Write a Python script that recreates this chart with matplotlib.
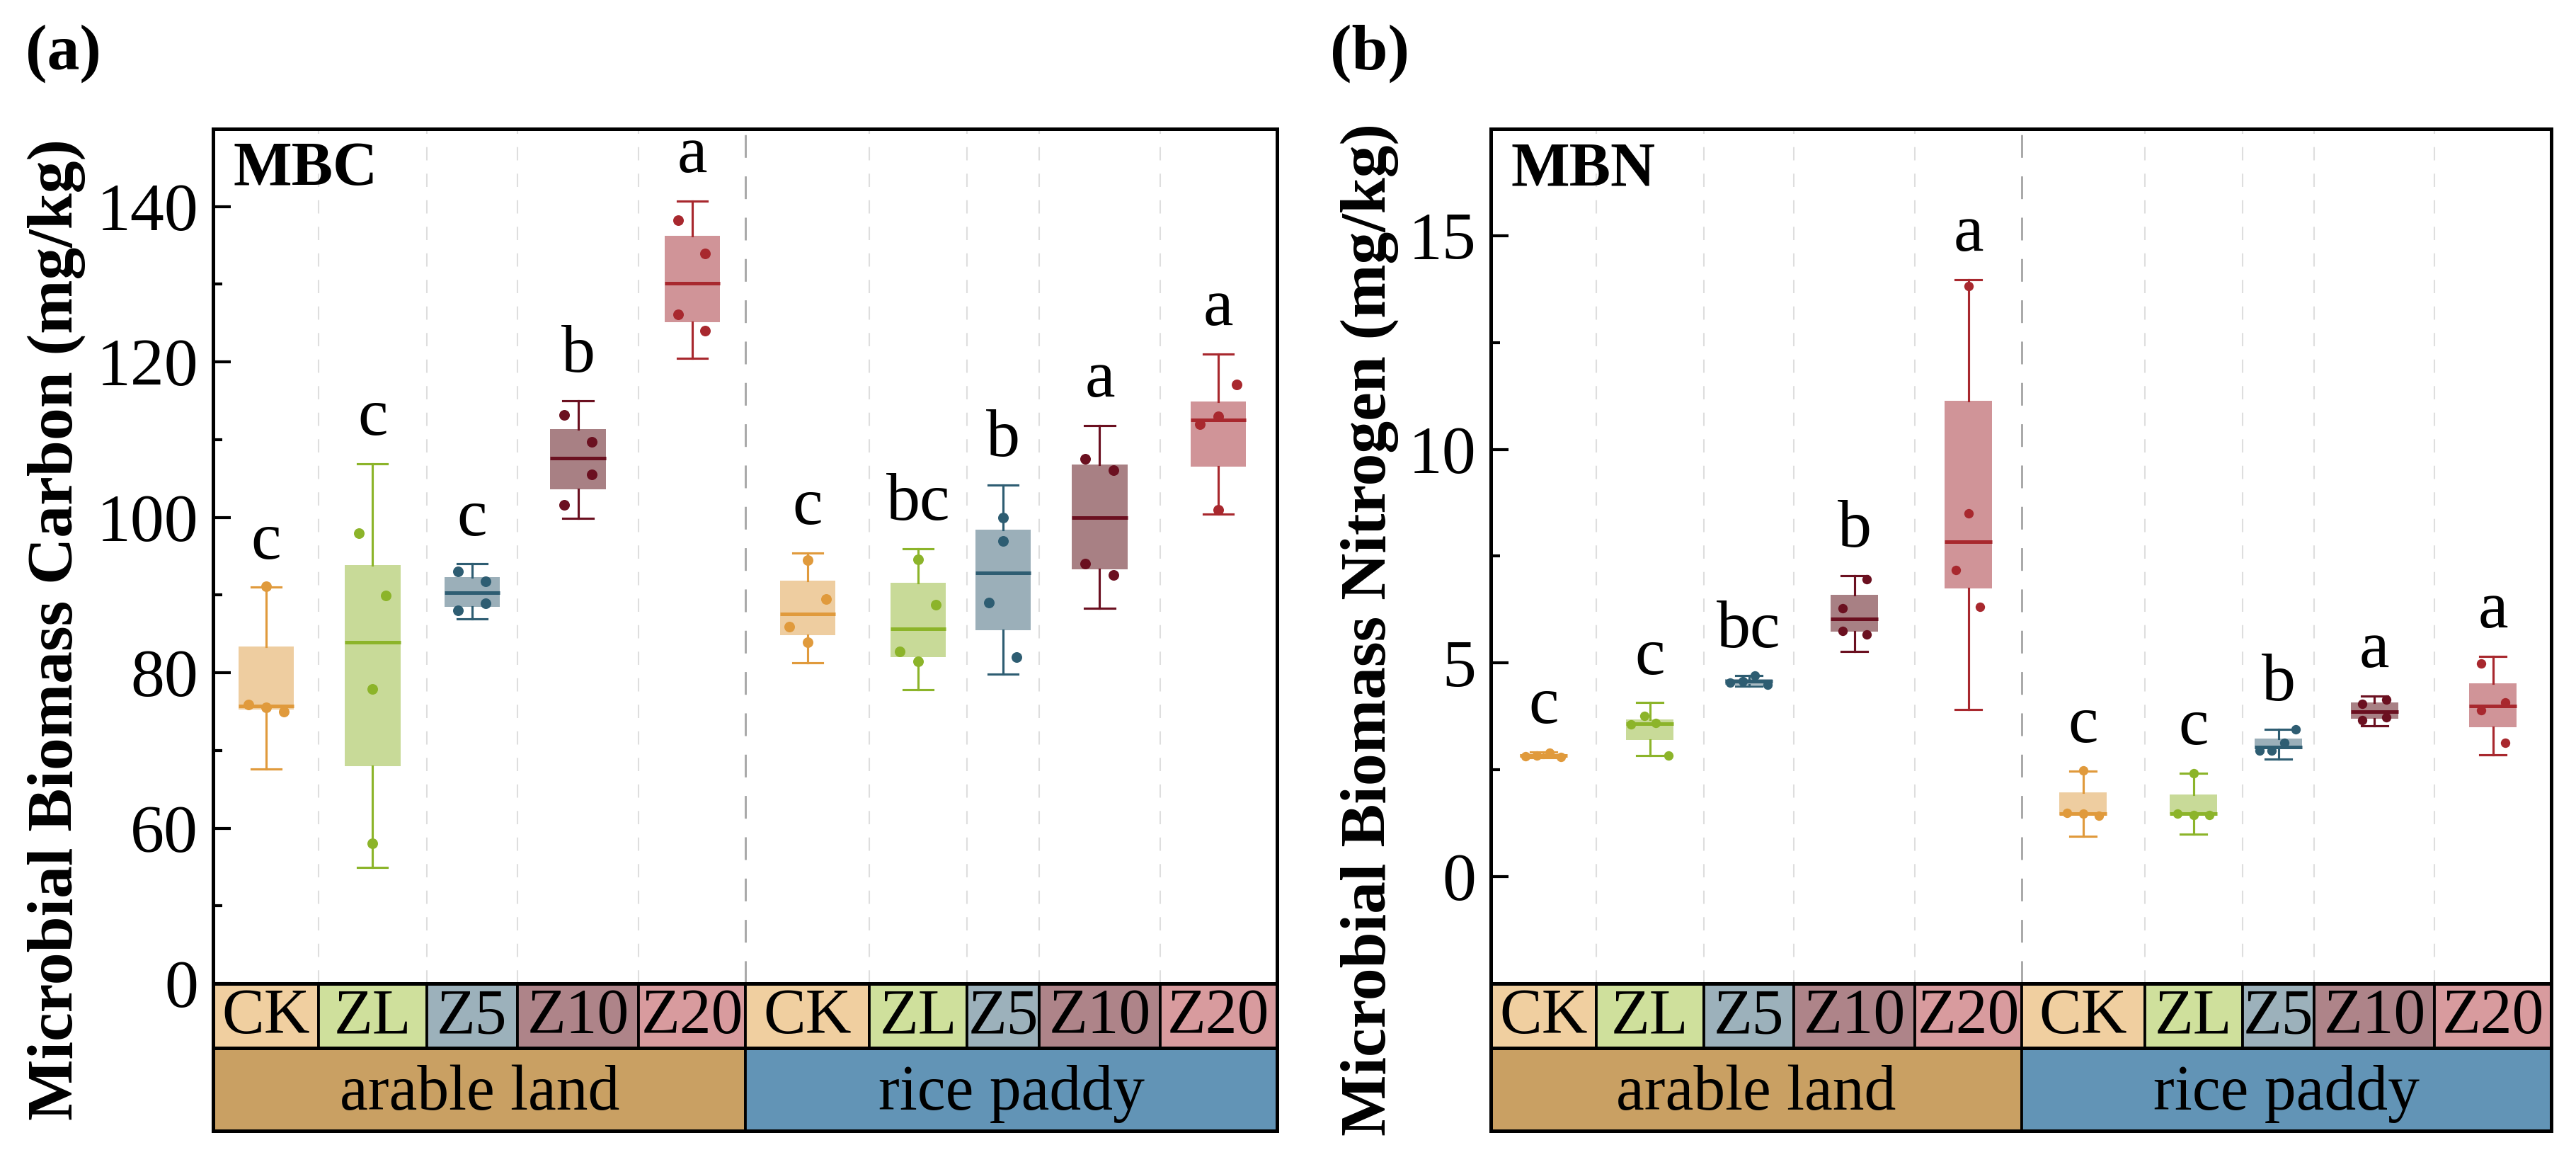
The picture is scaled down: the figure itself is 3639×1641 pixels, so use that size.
import matplotlib
matplotlib.use("Agg")
import matplotlib.pyplot as plt
import numpy as np
from matplotlib.patches import Rectangle
from matplotlib.ticker import FixedLocator

plt.rcParams['font.family'] = ['Liberation Serif', 'DejaVu Serif']

# ---- data ----
treatments = ['CK', 'ZL', 'Z5', 'Z10', 'Z20', 'CK', 'ZL', 'Z5', 'Z10', 'Z20']
groups = ['arable land', 'rice paddy']

# (a) Microbial biomass carbon
mbc_whislo = [67.6, 54.9, 86.9, 99.9, 120.5, 81.3, 77.8, 79.8, 88.3, 100.4]
mbc_q1 = [75.3, 68.0, 88.5, 103.6, 125.1, 84.8, 82.0, 85.5, 93.3, 106.5]
mbc_med = [75.7, 83.9, 90.3, 107.6, 130.1, 87.6, 85.7, 92.9, 100.0, 112.5]
mbc_q3 = [83.4, 93.9, 92.3, 111.4, 136.2, 91.9, 91.6, 98.4, 106.8, 114.9]
mbc_whishi = [91.0, 106.9, 94.0, 115.0, 140.7, 95.4, 96.0, 104.2, 111.8, 121.0]
mbc_points = [
    [91.1, 75.9, 75.5, 75.0],
    [98.0, 89.9, 77.9, 58.0],
    [93.0, 91.8, 88.9, 88.0],
    [113.2, 109.7, 105.5, 101.6],
    [138.2, 134.0, 126.1, 124.0],
    [94.5, 89.5, 85.9, 83.9],
    [94.6, 88.8, 82.7, 81.5],
    [100.0, 97.0, 89.0, 82.0],
    [107.5, 106.1, 94.0, 92.6],
    [117.1, 113.0, 112.0, 101.0],
]
mbc_letters = ['c', 'c', 'c', 'b', 'a', 'c', 'bc', 'b', 'a', 'a']
mbc_ticks = [40, 60, 80, 100, 120, 140]
mbc_ticklabels = ['0', '60', '80', '100', '120', '140']

# (b) Microbial biomass nitrogen
mbn_whislo = [2.78, 2.83, 4.46, 5.27, 3.91, 0.95, 0.99, 2.75, 3.53, 2.86]
mbn_q1 = [2.80, 3.20, 4.49, 5.73, 6.74, 1.45, 1.46, 2.99, 3.69, 3.50]
mbn_med = [2.83, 3.58, 4.57, 6.03, 7.84, 1.48, 1.47, 3.04, 3.87, 3.99]
mbn_q3 = [2.87, 3.68, 4.62, 6.59, 11.14, 1.97, 1.93, 3.24, 4.07, 4.53]
mbn_whishi = [2.92, 4.07, 4.70, 7.05, 13.97, 2.47, 2.42, 3.45, 4.23, 5.16]
mbn_points = [
    [2.82, 2.84, 2.90, 2.80],
    [3.77, 3.56, 3.59, 2.84],
    [4.55, 4.58, 4.71, 4.49],
    [6.96, 6.29, 5.76, 5.67],
    [13.82, 8.50, 7.17, 6.32],
    [2.49, 1.49, 1.47, 1.43],
    [2.42, 1.47, 1.45, 1.45],
    [3.45, 3.14, 2.95, 2.95],
    [4.04, 4.15, 3.67, 3.73],
    [4.99, 4.08, 3.90, 3.13],
]
mbn_letters = ['c', 'c', 'bc', 'b', 'a', 'c', 'c', 'b', 'a', 'a']
mbn_ticks = [0, 5, 10, 15]
mbn_ticklabels = ['0', '5', '10', '15']

# ---- layout / style ----
cell_w = [149, 152, 128, 171, 151, 174, 138, 102, 170, 165]
edges = np.concatenate([[0], np.cumsum(cell_w)])
centers = edges[:-1] + np.array(cell_w) / 2

mbc_jitter = [[0, -25, 0, 25], [-19, 19, 0, 0], [-20, 19, 19, -20], [-19, 19, 19, -19],
              [-20, 18, -20, 18], [0, 26, -26, 0], [0, 25, -26, 0], [0, 0, -20, 19],
              [-20, 19, -20, 19], [26, 0, -26, 0]]
mbn_jitter = [[-25, -9, 9, 25], [-8, -27, 8, 26], [-27, -9, 9, 27], [17, -17, -17, 17],
              [0, 0, -18, 16], [0, -23, 0, 22], [0, -23, 0, 22], [25, 9, -27, -10],
              [-17, 17, -17, 17], [-17, 17, -17, 17]]

line_colors = ['#E09A3C', '#8CB42A', '#2E5D72', '#6B1020', '#A8282E']
fill_colors = ['#EECDA0', '#C8DA98', '#9BAFB9', '#A88084', '#D09498']
strip_colors = ['#F0CFA0', '#CFE09C', '#9CB1BB', '#AE8489', '#D89B9E']
group_colors = ['#C9A063', '#6294B6']

fig = plt.figure(figsize=(12.1333, 5.47), dpi=300)

main_b, main_h = 0.15357, 0.73552
s1_b, s1_h = 0.09811, 0.05546
s2_b, s2_h = 0.02681, 0.07130


def panel(left, width, whislo, q1, med, q3, whishi, points, jitter, letters,
          ylim, ticks, ticklabels, minor, title, bw, cw, ms):
    ax = fig.add_axes([left, main_b, width, main_h])
    ax.set_xlim(0, edges[-1])
    ax.set_ylim(*ylim)

    for i, e in enumerate(edges[1:-1], start=1):
        if i == 5:
            ax.axvline(e, color='#A8A8A8', lw=0.7, ls=(0, (11, 9)), zorder=1)
        else:
            ax.axvline(e, color='#DEDEDE', lw=0.5, ls=(0, (9, 9)), zorder=1)

    stats = [dict(med=med[i], q1=q1[i], q3=q3[i], whislo=whislo[i], whishi=whishi[i],
                  fliers=[], label=treatments[i]) for i in range(10)]
    bp = ax.bxp(stats, positions=centers, widths=bw, capwidths=cw, patch_artist=True,
                showfliers=False, manage_ticks=False, zorder=2)
    for i in range(10):
        lc = line_colors[i % 5]
        bp['boxes'][i].set(facecolor=fill_colors[i % 5], edgecolor='none')
        bp['medians'][i].set(color=lc, lw=1.2)
        for k in (2 * i, 2 * i + 1):
            bp['whiskers'][k].set(color=lc, lw=0.75)
            bp['caps'][k].set(color=lc, lw=0.75)
        ax.plot(centers[i] + np.array(jitter[i]), points[i], 'o', color=lc,
                ms=ms, mew=0, zorder=4)
        ax.annotate(letters[i], (centers[i], whishi[i]), xytext=(0, 5),
                    textcoords='offset points', ha='center', va='bottom', fontsize=23)

    ax.set_yticks(ticks)
    ax.set_yticklabels(ticklabels)
    ax.yaxis.set_minor_locator(FixedLocator(minor))
    ax.set_xticks([])
    ax.tick_params(axis='y', which='both', direction='in', labelsize=23, pad=5,
                   right=False)
    ax.tick_params(axis='y', which='major', length=6, width=1.0)
    ax.tick_params(axis='y', which='minor', length=3, width=1.0)
    for sp in ax.spines.values():
        sp.set_linewidth(1.2)
    ax.text(0.019, 0.952, title, transform=ax.transAxes, fontsize=21,
            fontweight='bold', ha='left', va='center')

    s1 = fig.add_axes([left, s1_b, width, s1_h])
    s1.set_xlim(0, edges[-1])
    s1.set_ylim(0, 1)
    for i in range(10):
        s1.add_patch(Rectangle((edges[i], 0), cell_w[i], 1, facecolor=strip_colors[i % 5],
                               edgecolor='black', lw=0.9))
        s1.text(centers[i], 0.47, treatments[i], ha='center', va='center', fontsize=21.5)
    s2 = fig.add_axes([left, s2_b, width, s2_h])
    s2.set_xlim(0, edges[-1])
    s2.set_ylim(0, 1)
    for g in range(2):
        x0, x1 = edges[5 * g], edges[5 * g + 5]
        s2.add_patch(Rectangle((x0, 0), x1 - x0, 1, facecolor=group_colors[g],
                               edgecolor='black', lw=0.9))
        s2.text((x0 + x1) / 2, 0.45, groups[g], ha='center', va='center', fontsize=21.5)
    for s in (s1, s2):
        s.set_xticks([])
        s.set_yticks([])
        for sp in s.spines.values():
            sp.set_linewidth(1.2)
    return ax


panel(0.08269, 0.41291, mbc_whislo, mbc_q1, mbc_med, mbc_q3, mbc_whishi, mbc_points,
      mbc_jitter, mbc_letters, (40, 150), mbc_ticks, mbc_ticklabels,
      [50, 70, 90, 110, 130], 'MBC', 78, 42, 3.6)
panel(0.57857, 0.41154, mbn_whislo, mbn_q1, mbn_med, mbn_q3, mbn_whishi, mbn_points,
      mbn_jitter, mbn_letters, (-2.5, 17.5), mbn_ticks, mbn_ticklabels,
      [2.5, 7.5, 12.5], 'MBN', 67, 37, 3.2)

fig.text(0.022, 0.458, 'Microbial Biomass Carbon (mg/kg)', rotation=90, fontsize=22,
         fontweight='bold', ha='center', va='center')
fig.text(0.5316, 0.458, 'Microbial Biomass Nitrogen (mg/kg)', rotation=90, fontsize=22,
         fontweight='bold', ha='center', va='center')
fig.text(0.0245, 0.9537, '(a)', fontsize=22, fontweight='bold', ha='center', va='center')
fig.text(0.5316, 0.9537, '(b)', fontsize=22, fontweight='bold', ha='center', va='center')

fig.savefig('out.png', dpi=300)
